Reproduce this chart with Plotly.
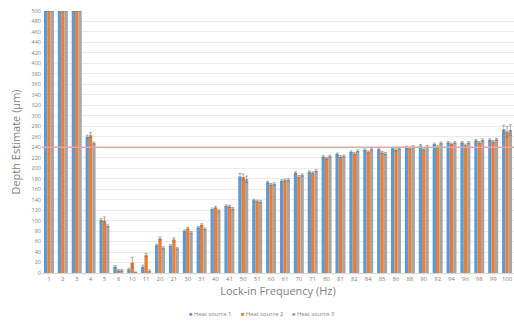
import plotly.graph_objects as go

categories = ["1", "2", "3", "4", "5", "8", "10", "11", "20", "21", "30", "31", "40", "41",
              "50", "51", "60", "61", "70", "71", "80", "81", "82", "84", "85", "86", "88",
              "90", "92", "94", "96", "98", "99", "100"]

source1 = [500, 500, 500, 260, 101, 12, 7, 12, 53, 52, 80, 87, 122, 128,
           184, 139, 173, 176, 191, 193, 222, 227, 231, 235, 236, 238, 240,
           243, 246, 249, 249, 253, 254, 274]
source2 = [500, 500, 500, 263, 100, 5, 20, 34, 66, 64, 85, 92, 125, 127,
           183, 137, 169, 177, 184, 191, 219, 222, 228, 231, 230, 235, 238,
           236, 241, 246, 244, 249, 251, 270]
source3 = [500, 500, 500, 248, 90, 5, 1, 4, 48, 47, 77, 84, 119, 123,
           179, 136, 170, 178, 187, 195, 223, 223, 233, 236, 228, 238, 241,
           241, 248, 249, 249, 254, 255, 273]

err1 = [0, 0, 0, 3, 3, 2, 2, 3, 2, 2, 2, 2, 2, 2,
        6, 2, 2, 2, 2, 2, 2, 2, 2, 2, 2, 2, 2,
        2, 2, 2, 2, 2, 2, 8]
err2 = [0, 0, 0, 5, 7, 2, 10, 3, 3, 3, 2, 2, 2, 2,
        6, 2, 2, 2, 2, 2, 2, 2, 2, 2, 2, 2, 2,
        2, 2, 2, 2, 2, 2, 10]
err3 = [0, 0, 0, 2, 2, 2, 1, 2, 2, 2, 2, 2, 2, 2,
        6, 2, 2, 2, 2, 2, 2, 2, 2, 2, 2, 2, 2,
        2, 2, 2, 2, 2, 2, 10]

names = ["Heat source 1", "Heat source 2", "Heat source 3"]
colors = ["#5B9BD5", "#ED7D31", "#A5A5A5"]
threshold = 240

fig = go.Figure()
for name, vals, errs, col in zip(names, [source1, source2, source3], [err1, err2, err3], colors):
    fig.add_trace(go.Bar(
        x=categories, y=vals, name=name, showlegend=False,
        marker=dict(color=col, line=dict(width=0)),
        error_y=dict(type="data", array=errs, visible=True, color="#7a7a7a", thickness=0.6, width=1.5),
    ))

fig.add_shape(type="line", xref="paper", x0=0, x1=1, yref="y", y0=threshold, y1=threshold,
              line=dict(color="#F4A0A0", width=1.5))

# compact legend row (as in the original Excel-style legend)
legend_px = [187, 239, 290]
plot_left, plot_w = 42, 472
for name, col, px in zip(names, colors, legend_px):
    fig.add_annotation(
        xref="paper", yref="paper", x=(px - plot_left) / plot_w, y=-0.155,
        xanchor="left", yanchor="middle", showarrow=False,
        text=f'<span style="color:{col}">■</span> {name}',
        font=dict(size=5.8, color="#7f7f7f"),
    )

fig.update_layout(
    width=514, height=323,
    margin=dict(l=42, r=0, t=11, b=50),
    paper_bgcolor="white", plot_bgcolor="white",
    barmode="group", bargap=0.28, bargroupgap=0,
    font=dict(family="Open Sans, Arial, sans-serif", color="#7f7f7f"),
    xaxis=dict(type="category", tickfont=dict(size=6, color="#7f7f7f"), showgrid=False,
               showline=True, linecolor="#d9d9d9", linewidth=1, ticks="",
               title=dict(text="Lock-in Frequency (Hz)", font=dict(size=11, color="#7f7f7f"), standoff=4)),
    yaxis=dict(range=[0, 500], dtick=20, tickfont=dict(size=5.5, color="#7f7f7f"),
               showgrid=True, gridcolor="#eaeaea", gridwidth=1, zeroline=False, ticks="",
               title=dict(text="Depth Estimate (µm)", font=dict(size=11, color="#7f7f7f"), standoff=8)),
    showlegend=False,
)

fig.write_html("out.html")
